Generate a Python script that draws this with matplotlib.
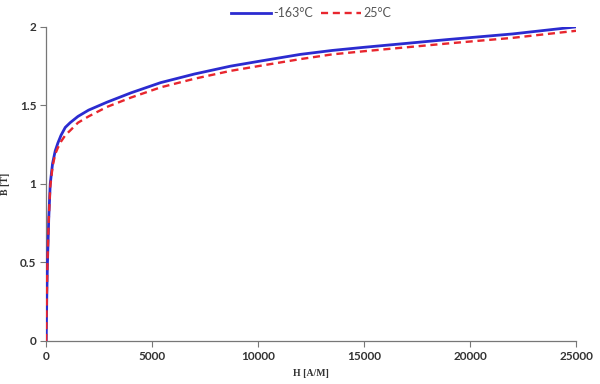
import matplotlib
matplotlib.use("Agg")
import matplotlib.pyplot as plt

# =====================================================
# DATA
# =====================================================

h_field = [0, 30, 60, 120, 190, 300, 425, 550, 700, 900, 1130, 1500, 2000,
           2860, 4000, 5400, 7000, 8700, 10000, 12000, 13500, 15000,
           17000, 19000, 22000, 25000]
b_cold = [0, 0.30, 0.50, 0.78, 1.00, 1.13, 1.21, 1.26, 1.31, 1.36, 1.39,
          1.43, 1.47, 1.52, 1.58, 1.645, 1.70, 1.75, 1.78, 1.825, 1.85,
          1.87, 1.895, 1.92, 1.955, 2.00]
b_room = [0, 0.30, 0.50, 0.77, 0.98, 1.11, 1.19, 1.23, 1.27, 1.31, 1.34,
          1.39, 1.43, 1.49, 1.55, 1.615, 1.67, 1.72, 1.75, 1.795, 1.825,
          1.845, 1.87, 1.895, 1.93, 1.975]

x_ticks = [0, 5000, 10000, 15000, 20000, 25000]
y_ticks = [0, 0.5, 1, 1.5, 2]

# =====================================================
# PLOT
# =====================================================

fig = plt.figure(figsize=(6, 3.84), dpi=100)
ax = fig.add_axes([0.077, 0.112, 0.883, 0.818])

ax.plot(h_field, b_cold, color="#2b2bd0", lw=2.0, label="-163°C", zorder=3)
ax.plot(h_field, b_room, color="#e8262e", lw=1.7, ls=(0, (3, 2)),
        label="25°C", zorder=4)

ax.set_xlim(0, 25000)
ax.set_ylim(0, 2)
ax.set_xticks(x_ticks)
ax.set_yticks(y_ticks)
ax.set_xticklabels([str(t) for t in x_ticks])
ax.set_yticklabels([f"{t:g}" for t in y_ticks])

for lab in ax.get_xticklabels() + ax.get_yticklabels():
    lab.set_fontfamily("Lato")
    lab.set_fontweight("bold")
    lab.set_fontsize(8.5)
    lab.set_color("#333333")

ax.tick_params(axis="both", direction="out", length=4, width=0.8,
               color="#777777", pad=3)
ax.spines["top"].set_visible(False)
ax.spines["right"].set_visible(False)
for side in ["left", "bottom"]:
    ax.spines[side].set_color("#777777")
    ax.spines[side].set_linewidth(0.9)

ax.set_xlabel("H [A/M]", family="Liberation Serif", fontweight="bold",
              fontsize=7, color="#333333", labelpad=5)
ax.set_ylabel("B [T]", family="Liberation Serif", fontweight="bold",
              fontsize=7, color="#333333", labelpad=7)

leg = ax.legend(loc="lower center", bbox_to_anchor=(0.5, 1.0), ncol=2,
                frameon=False, handlelength=3.2,
                handletextpad=0.2, columnspacing=0.6, borderaxespad=0.2,
                prop={"family": "Lato", "size": 9})
for txt in leg.get_texts():
    txt.set_color("#555555")

fig.savefig("out.png", dpi=100)
